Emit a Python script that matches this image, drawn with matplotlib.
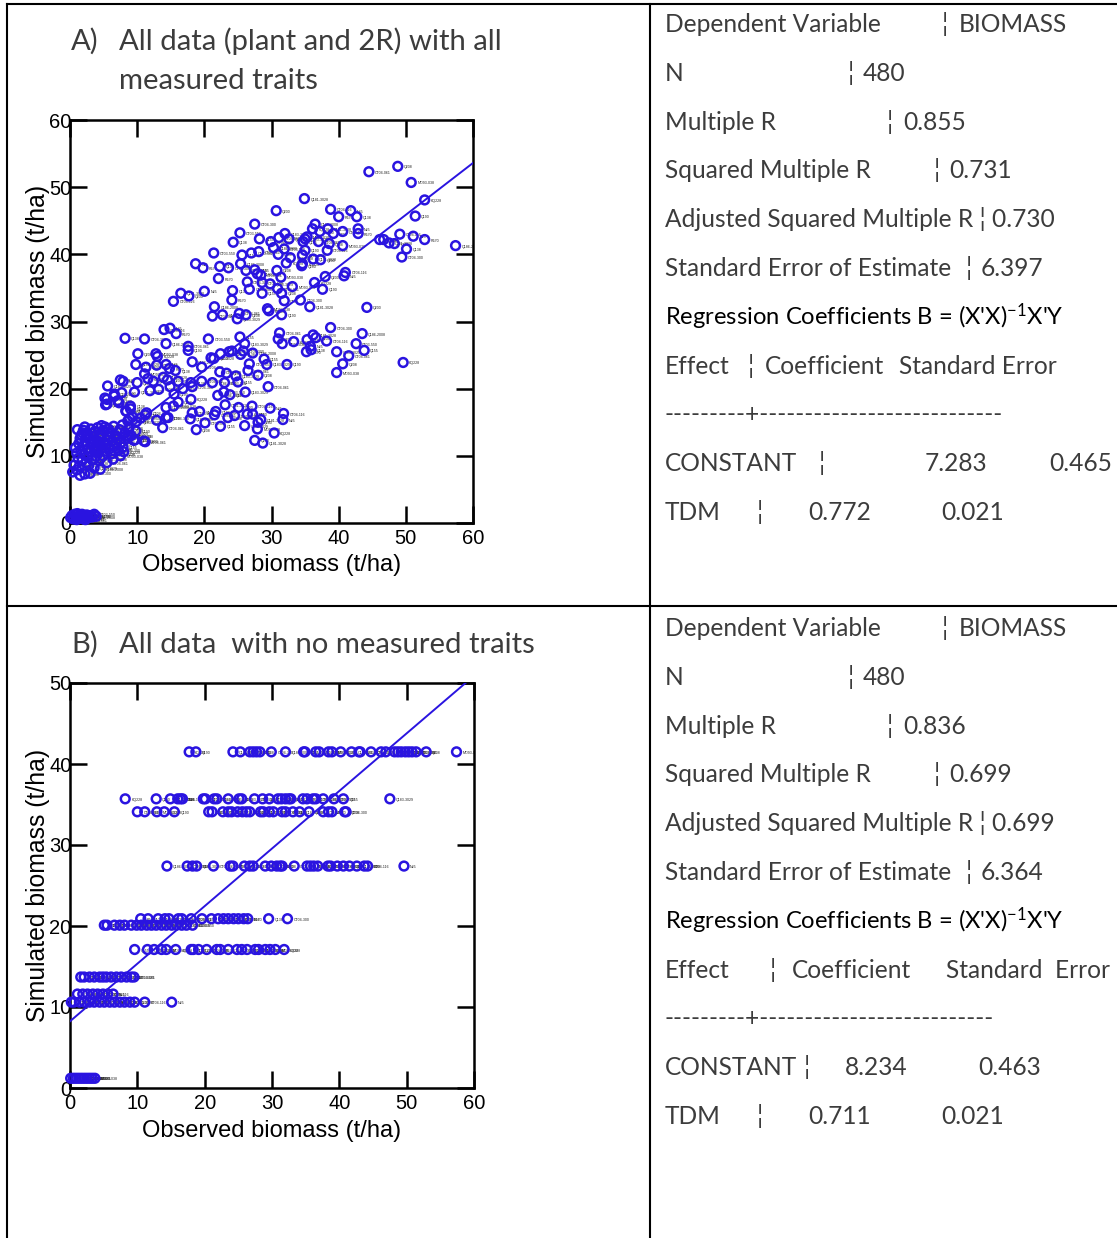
import numpy as np
import matplotlib
matplotlib.use('Agg')
import matplotlib.pyplot as plt

# ---------------- data ----------------
# Panel A: observed vs simulated biomass (t/ha), all measured traits
obs_A_main = [44.5, 48.8, 50.8, 52.8, 51.4, 34.9, 30.7, 38.8, 41.8, 40.0,
              42.7, 27.5, 36.5, 25.3, 28.2, 32.0, 31.1, 32.6, 35.3, 36.1,
              37.2, 38.4, 39.2, 40.6, 42.9, 42.9, 24.3, 29.9, 30.3, 31.9,
              34.7, 35.0, 37.0, 38.6, 40.6, 46.1, 46.7, 47.5, 48.3, 49.1,
              51.1, 52.8, 50.1, 49.4, 57.4,
              21.4, 25.6, 27.0, 28.1, 31.0, 32.8, 32.2, 35.0, 34.6, 37.3,
              38.3, 18.7, 19.8, 22.3, 23.6, 25.4, 26.2, 27.5, 27.9, 28.4,
              30.8, 31.4, 34.6, 34.5, 36.2, 38.0, 41.0, 40.8,
              22.1, 24.2, 26.4, 26.7, 28.6, 28.6, 29.8, 30.9, 31.5, 33.1,
              36.4, 37.6, 16.5, 17.7, 15.4, 20.0, 24.1, 31.9, 34.3, 21.5,
              21.2, 22.7, 24.9, 25.2, 26.2, 29.4, 29.6, 31.5, 35.7, 44.2,
              14.0, 14.9, 15.8, 8.2, 11.1, 14.3, 20.6, 25.3, 26.0, 17.6,
              10.1, 12.8, 13.0, 17.6, 21.0, 21.4, 22.4, 23.7, 24.1, 25.4,
              25.8, 27.2, 26.7, 28.9, 29.3, 31.2, 31.0, 31.6, 33.3, 35.3,
              36.2, 36.6, 38.2, 35.8, 35.2, 35.9, 38.8, 43.5, 42.6, 43.8,
              39.7, 41.5, 40.6, 39.7, 49.6, 32.3,
              9.8, 11.3, 12.9, 14.3, 14.8, 15.7, 19.6, 18.2, 22.3, 23.3,
              24.7, 26.5, 28.0, 11.1, 11.6, 12.4, 13.9, 14.5, 16.1, 7.9,
              7.5, 10.0, 19.6, 21.2, 23.0, 25.0, 5.6, 6.6, 7.1, 5.2,
              5.5, 7.7, 9.6, 11.9, 13.2, 14.9, 16.8, 18.0, 18.2, 22.0,
              22.9, 23.8, 26.1, 29.5, 16.1, 15.4, 18.0, 15.5, 23.1, 25.1,
              27.1, 29.8, 8.3, 9.0, 11.4, 14.3, 18.2, 19.3, 21.7, 21.5,
              23.5, 24.5, 26.4, 27.2, 28.4, 28.0, 31.8, 31.7, 12.9, 14.3,
              14.6, 17.9, 20.1, 22.4, 26.0, 13.8, 18.8, 27.9, 30.4, 27.5,
              28.7, 11.0]
sim_A_main = [52.3, 53.1, 50.7, 48.1, 45.7, 48.3, 46.5, 46.7, 46.5, 45.6,
              45.6, 44.5, 44.5, 43.2, 42.3, 43.1, 42.5, 42.3, 42.6, 43.8,
              43.4, 43.8, 43.1, 43.4, 43.8, 43.1, 41.8, 41.9, 41.0, 40.8,
              41.9, 42.3, 41.9, 41.6, 41.3, 42.2, 42.2, 41.7, 41.6, 43.0,
              42.7, 42.2, 40.8, 39.6, 41.3,
              40.2, 39.9, 40.2, 40.4, 40.0, 39.5, 38.7, 40.6, 39.9, 39.2,
              40.6, 38.6, 38.0, 38.2, 38.0, 38.6, 37.6, 37.7, 37.1, 36.9,
              37.6, 36.6, 38.6, 38.3, 39.3, 36.7, 37.3, 36.8,
              36.4, 34.6, 35.9, 34.8, 35.8, 34.2, 35.6, 34.9, 34.2, 35.2,
              35.8, 34.8, 34.2, 33.8, 33.0, 34.5, 33.2, 33.1, 33.2, 32.2,
              30.8, 31.0, 30.4, 31.2, 31.0, 31.9, 31.6, 31.0, 32.2, 32.1,
              28.8, 29.0, 28.2, 27.5, 27.4, 26.7, 27.4, 27.7, 26.7, 26.3,
              25.2, 25.2, 24.8, 25.7, 24.6, 24.5, 25.2, 25.5, 25.6, 25.1,
              25.6, 25.3, 23.7, 24.4, 23.6, 28.3, 27.4, 26.7, 27.0, 27.3,
              28.0, 27.6, 27.1, 26.3, 25.5, 25.8, 29.1, 28.2, 26.7, 25.7,
              25.5, 24.9, 23.7, 22.4, 23.9, 23.6,
              23.6, 23.2, 23.5, 23.6, 23.0, 22.7, 23.2, 24.0, 22.5, 22.3,
              21.9, 22.7, 22.0, 22.2, 21.5, 21.1, 21.7, 21.3, 21.1, 21.1,
              21.3, 20.9, 21.1, 20.9, 20.9, 21.0, 20.4, 19.2, 18.2, 18.6,
              17.7, 19.4, 19.5, 19.7, 19.9, 20.3, 20.0, 20.9, 20.3, 19.0,
              19.5, 19.1, 19.5, 20.3, 18.0, 17.4, 18.4, 19.2, 17.6, 17.2,
              17.4, 17.1, 16.7, 17.4, 16.4, 17.2, 16.4, 16.6, 16.6, 16.1,
              15.7, 16.0, 16.2, 16.2, 15.4, 15.0, 16.3, 15.4, 15.3, 15.7,
              15.7, 15.5, 14.9, 14.4, 14.5, 14.2, 13.9, 14.0, 13.4, 12.3,
              11.9, 12.2]
obs_A_cluster = [0.8, 1.0, 1.2, 1.3, 1.5, 1.6, 1.8, 1.9, 2.0, 2.1,
                 2.3, 2.4, 2.5, 2.6, 2.7, 2.9, 3.0, 3.1, 3.2, 3.3,
                 3.5, 3.6, 3.7, 3.8, 3.9, 4.0, 4.1, 4.2, 4.3, 4.4,
                 4.5, 4.6, 4.7, 4.8, 4.9, 5.0, 5.1, 5.2, 5.3, 5.4,
                 5.5, 5.6, 5.7, 5.8, 5.9, 6.0, 6.2, 6.3, 6.5, 6.6,
                 6.8, 7.0, 7.2, 7.4, 7.6, 7.9, 8.2, 8.5, 8.8, 9.1,
                 9.5, 9.8, 1.1, 1.4, 0.6, 1.0, 1.5, 2.2, 3.0, 4.5,
                 0.4, 2.8, 3.6, 5.5, 6.4, 7.5, 8.0, 5.0, 2.2, 1.7,
                 3.4, 4.0, 6.9, 7.8, 8.6, 9.3, 10.5, 11.2, 9.9, 11.2,
                 9.7, 8.7, 5.5, 6.6, 5.3, 7.3, 8.4, 9.0, 8.9, 2.0,
                 2.5, 3.7]
sim_A_cluster = [11.2, 10.4, 9.6, 11.8, 12.6, 10.9, 9.3, 13.4, 11.5, 10.2,
                 12.1, 9.0, 13.0, 11.0, 9.8, 12.5, 10.6, 14.0, 11.7, 9.4,
                 12.9, 10.9, 13.6, 11.3, 9.9, 12.3, 14.2, 10.4, 11.8, 13.2,
                 9.6, 12.7, 14.5, 11.1, 10.0, 13.8, 12.0, 14.3, 10.7, 11.6,
                 13.1, 12.4, 14.0, 11.0, 12.9, 13.5, 10.3, 12.2, 14.4, 11.4,
                 13.0, 12.5, 10.8, 13.9, 12.0, 11.3, 13.4, 12.6, 14.1, 13.0,
                 12.3, 13.7, 13.9, 8.5, 8.6, 7.9, 7.1, 7.3, 7.4, 8.0,
                 7.6, 8.6, 8.2, 9.0, 9.5, 10.0, 10.6, 11.8, 14.3, 13.1,
                 12.0, 10.8, 11.8, 14.6, 15.2, 15.8, 15.6, 16.1, 15.1, 12.1,
                 12.4, 12.9, 18.4, 18.9, 17.6, 17.9, 16.6, 17.0, 15.6, 13.8,
                 13.3, 13.6]
obs_A_low = [0.1, 0.3, 0.5, 0.7, 0.9, 1.1, 1.2, 1.4, 1.6, 1.8,
             2.0, 2.2, 2.5, 2.7, 3.0, 3.3, 3.6, 3.9, 1.0, 2.3]
sim_A_low = [0.8, 1.1, 0.6, 1.3, 0.9, 1.4, 0.7, 1.1, 0.9, 1.3,
             0.6, 1.0, 1.2, 0.8, 1.1, 0.9, 1.3, 1.0, 0.5, 0.5]

# Panel B: simulated values fall on discrete levels
sim_B_levels = [41.5, 35.7, 34.1, 27.4, 20.9, 20.1, 17.1, 13.7, 11.6, 10.6, 1.2]
obs_B_rows = [
    [17.7, 18.7, 24.2, 25.3, 26.7, 27.2, 27.7, 28.2, 29.9, 32.0, 34.7, 34.9,
     36.5, 37.0, 38.4, 38.9, 40.2, 41.8, 42.9, 43.1, 44.7, 46.2, 46.9, 48.2,
     48.7, 49.2, 49.8, 50.3, 50.8, 51.4, 52.9, 57.4],
    [8.2, 12.8, 14.9, 16.0, 16.4, 16.7, 19.8, 20.1, 21.4, 21.8, 23.5, 25.1,
     25.5, 27.4, 28.6, 29.6, 30.9, 31.4, 32.0, 32.5, 32.8, 34.6, 35.2, 36.1,
     36.5, 37.6, 39.2, 40.6, 47.5],
    [10.0, 11.1, 12.9, 14.0, 15.5, 20.6, 21.1, 22.7, 23.5, 24.0, 24.9, 25.6,
     26.2, 26.7, 28.3, 28.7, 29.6, 30.2, 31.5, 32.0, 33.1, 34.1, 35.5, 37.6,
     38.4, 38.9, 40.8, 41.0],
    [14.4, 17.4, 18.2, 18.8, 21.3, 23.8, 24.2, 25.9, 26.7, 27.2, 29.0, 29.9,
     30.7, 31.2, 31.5, 33.3, 35.2, 35.7, 36.2, 36.8, 38.3, 38.7, 39.7, 40.6,
     41.5, 42.6, 43.7, 44.2, 49.6],
    [10.5, 11.6, 13.1, 14.1, 14.7, 16.1, 16.6, 18.0, 19.6, 21.0, 22.0, 22.8,
     23.5, 24.3, 25.0, 25.8, 26.4, 29.5, 32.3],
    [5.1, 5.5, 6.6, 7.4, 8.1, 9.1, 9.9, 10.6, 11.4, 12.1, 12.8, 13.6, 14.3,
     15.1, 15.8, 16.6, 17.3, 18.2],
    [9.6, 11.5, 12.5, 13.6, 14.3, 15.7, 18.0, 18.3, 19.1, 20.3, 21.8, 22.3,
     23.5, 24.8, 25.5, 26.3, 27.5, 28.0, 29.0, 29.7, 30.5, 31.8],
    [1.6, 2.1, 2.9, 3.6, 4.4, 4.9, 5.4, 6.1, 6.9, 7.6, 8.4, 9.1, 9.5],
    [1.1, 1.9, 2.6, 3.4, 4.1, 4.9, 5.6, 6.4],
    [0.2, 0.6, 1.4, 2.1, 2.9, 3.6, 4.4, 5.1, 5.9, 6.6, 7.4, 8.1, 8.9, 9.6,
     11.1, 15.1],
    [0.1, 0.5, 0.9, 1.3, 1.7, 2.1, 2.5, 2.9, 3.3, 3.7],
]

# point labels (genotype / treatment codes)
point_names = ['CT04-061', 'Q208', 'MO93-038', 'KQ228', 'Q190', 'Q181-3028',
               'Q200', 'CT04-116', 'N25', 'R570', 'Q138', 'CT04-300',
               'Q186-2008', 'CT03-550', 'Q155', 'Q183-3029']

# regression results
const_A, slope_A = 7.283, 0.772
const_B, slope_B = 8.234, 0.711
stats_A = {'N': '480', 'R': '0.855', 'R2': '0.731', 'AR2': '0.730', 'SE': '6.397',
           'c_se': '0.465', 't_se': '0.021'}
stats_B = {'N': '480', 'R': '0.836', 'R2': '0.699', 'AR2': '0.699', 'SE': '6.364',
           'c_se': '0.463', 't_se': '0.021'}

# ---------------- figure ----------------
W, H = 1117, 1238
fig = plt.figure(figsize=(W / 100, H / 100), dpi=100)
BLUE = '#2a14e0'
AXFONT = ['Liberation Sans', 'DejaVu Sans']
TXTFONT = ['Lato', 'DejaVu Sans']
GREY = '#3c3c3c'

plt.rcParams['mathtext.fontset'] = 'custom'
plt.rcParams['mathtext.rm'] = 'Lato'
plt.rcParams['mathtext.it'] = 'Lato'
plt.rcParams['mathtext.default'] = 'regular'


def px_axes(l, t, r, b, **kw):
    return fig.add_axes([l / W, 1 - b / H, (r - l) / W, (b - t) / H], **kw)


def style_axes(ax, ymax, yticks):
    ax.set_xlim(0, 60)
    ax.set_ylim(0, ymax)
    ax.set_xticks(range(0, 61, 10))
    ax.set_yticks(yticks)
    ax.tick_params(direction='in', length=12, width=1.8, top=True, right=True,
                   labelsize=14.5, colors='black')
    ax.tick_params(axis='x', pad=4)
    ax.tick_params(axis='y', pad=-1)
    for lab in ax.get_xticklabels() + ax.get_yticklabels():
        lab.set_family(AXFONT)
    for sp in ax.spines.values():
        sp.set_linewidth(1.8)
    ax.text(0.5, -0.105, 'Observed biomass (t/ha)', transform=ax.transAxes,
            ha='center', va='center', fontsize=17, family=AXFONT)
    ax.text(-0.08, 0.5, 'Simulated biomass (t/ha)', transform=ax.transAxes,
            ha='center', va='center', rotation=90, fontsize=17.8, family=AXFONT)


def draw_points(ax, xs, ys, k0=0):
    ax.scatter(xs, ys, s=40, facecolors='none', edgecolors=BLUE,
               linewidths=1.8, zorder=3, clip_on=False)
    for i, (x, y) in enumerate(zip(xs, ys)):
        ax.text(x + 0.9, y - 0.15, point_names[(i + k0) % len(point_names)],
                fontsize=2.6, color='#222222', va='center', ha='left',
                family=AXFONT, zorder=2, clip_on=True)


# Panel A
axA = px_axes(70, 120, 473, 523)
xa = obs_A_main + obs_A_cluster + obs_A_low
ya = sim_A_main + sim_A_cluster + sim_A_low
draw_points(axA, xa, ya)
lx = np.array([0, 60])
axA.plot(lx, const_A + slope_A * lx, color=BLUE, lw=1.4, zorder=4)
style_axes(axA, 60, range(0, 61, 10))

# Panel B
axB = px_axes(70, 683, 474, 1088)
xb, yb = [], []
for lev, row in zip(sim_B_levels, obs_B_rows):
    xb += row
    yb += [lev] * len(row)
draw_points(axB, xb, yb, k0=3)
axB.plot(lx, const_B + slope_B * lx, color=BLUE, lw=1.4, zorder=4)
style_axes(axB, 50, range(0, 51, 10))

# ---------------- overlay: table borders and text ----------------
ov = fig.add_axes([0, 0, 1, 1], zorder=10)
ov.set_xlim(0, W)
ov.set_ylim(H, 0)
ov.axis('off')
ov.patch.set_alpha(0)
lw = 1.5
ov.plot([7, 7], [4, H], color='black', lw=lw)
ov.plot([7, W], [4, 4], color='black', lw=lw)
ov.plot([650, 650], [4, H], color='black', lw=lw)
ov.plot([7, W], [606, 606], color='black', lw=lw)

rend = fig.canvas.get_renderer()


def fit_size(s, target_px, family, base=20.0, **kw):
    t = fig.text(0, 0, s, fontsize=base, family=family, **kw)
    w = t.get_window_extent(rend).width
    t.remove()
    return base * target_px / w


title_fs = fit_size('All data (plant and 2R) with all', 383, TXTFONT)
body_fs = fit_size('Adjusted Squared Multiple R \u00a6 0.730', 391, TXTFONT)


def put(x, y, s, fs=None, color=GREY, **kw):
    ov.text(x, y, s, fontsize=fs or body_fs, family=TXTFONT, color=color,
            va='baseline', ha='left', **kw)


# titles
put(71, 50, 'A)', title_fs)
put(119, 50, 'All data (plant and 2R) with all', title_fs)
put(119, 89, 'measured traits', title_fs)
put(71, 653, 'B)', title_fs)
put(119, 653, 'All data  with no measured traits', title_fs)

BAR = '\u00a6'


def stats_block(center0, st, effect_cols, const_cols, tdm_cols, const_val, slope_val, dash):
    rows = [center0 + 8 + 48.8 * i for i in range(11)]
    put(665, rows[0], 'Dependent Variable')
    put(942, rows[0], BAR)
    put(959, rows[0], 'BIOMASS')
    put(665, rows[1], 'N')
    put(848, rows[1], BAR)
    put(863, rows[1], st['N'])
    put(665, rows[2], 'Multiple R')
    put(887, rows[2], BAR)
    put(903, rows[2], st['R'])
    put(665, rows[3], 'Squared Multiple R')
    put(934, rows[3], BAR)
    put(949, rows[3], st['R2'])
    put(665, rows[4], 'Adjusted Squared Multiple R ' + BAR + ' ' + st['AR2'])
    put(665, rows[5], 'Standard Error of Estimate')
    put(966, rows[5], BAR)
    put(981, rows[5], st['SE'])
    ov.text(665, rows[6], "Regression Coefficients B = (X'X)$^{-1}$X'Y",
            fontsize=body_fs * 0.97, family=TXTFONT, color='black',
            va='baseline', ha='left')
    for x, s in effect_cols:
        put(x, rows[7], s)
    put(665, rows[8], dash)
    put(665, rows[9], 'CONSTANT')
    put(const_cols[0], rows[9], BAR)
    put(const_cols[1], rows[9], '%.3f' % const_val)
    put(const_cols[2], rows[9], st['c_se'])
    put(665, rows[10], 'TDM')
    put(tdm_cols[0], rows[10], BAR)
    put(tdm_cols[1], rows[10], '%.3f' % slope_val)
    put(tdm_cols[2], rows[10], st['t_se'])


stats_block(24, stats_A,
            [(665, 'Effect'), (748, BAR), (765, 'Coefficient'), (899, 'Standard Error')],
            (819, 925, 1049), (757, 808, 941), const_A, slope_A,
            '---------+---------------------------')
stats_block(628, stats_B,
            [(665, 'Effect'), (770, BAR), (792, 'Coefficient'), (946, 'Standard  Error')],
            (804, 845, 978), (757, 808, 941), const_B, slope_B,
            '---------+--------------------------')

fig.savefig('out.png', dpi=100)
